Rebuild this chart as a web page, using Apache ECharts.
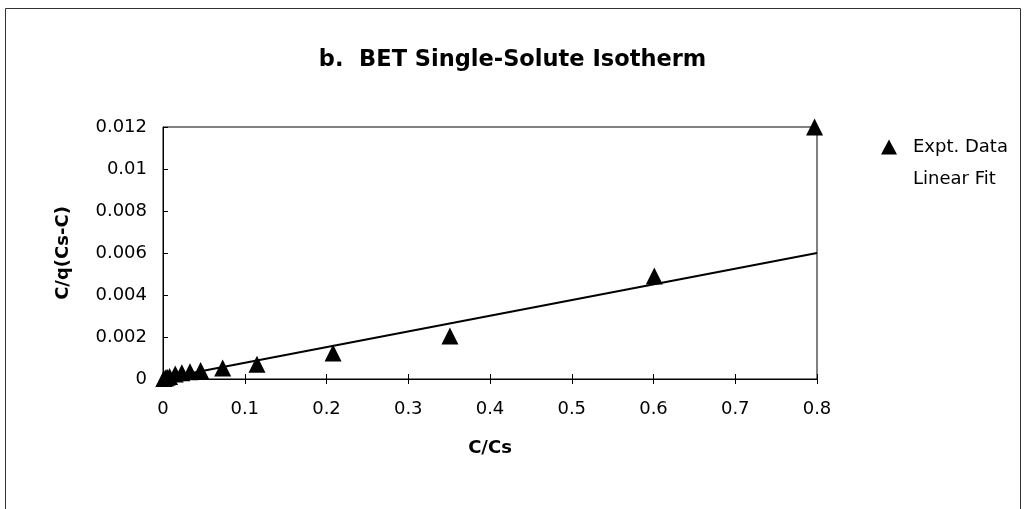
<!DOCTYPE html>
<html>
<head>
<meta charset="utf-8">
<title>BET Single-Solute Isotherm</title>
<script src="https://cdn.jsdelivr.net/npm/echarts@6/dist/echarts.min.js"></script>
<style>
  html, body { margin: 0; padding: 0; background: #ffffff; }
  #chart { width: 1025px; height: 509px; }
</style>
</head>
<body>
<div id="chart"></div>
<script>
// Experimental points: relative concentration C/Cs and linearised BET term C/q(Cs-C)
const exptX = [0.001, 0.003, 0.005, 0.008, 0.015, 0.023, 0.033, 0.046, 0.073, 0.115, 0.208, 0.351, 0.601, 0.797];
const exptY = [0.00002, 0.00005, 0.00008, 0.00012, 0.00024, 0.0003, 0.00034, 0.0004, 0.00052, 0.0007, 0.00124, 0.00205, 0.0049, 0.012];

// Straight-line fit end points
const fitX = [0, 0.8];
const fitY = [0.00002, 0.006];

const seriesNames = ['Expt. Data', 'Linear Fit'];
const titleText = 'b.  BET Single-Solute Isotherm';
const xName = 'C/Cs';
const yName = 'C/q(Cs-C)';

const FONT = '"DejaVu Sans", "Liberation Sans", Arial, sans-serif';
const fmt = v => String(parseFloat(v.toFixed(4)));

const chart = echarts.init(document.getElementById('chart'), null, { renderer: 'canvas' });

const option = {
  backgroundColor: '#ffffff',
  animation: false,
  title: {
    text: titleText,
    left: 'center',
    top: 49,
    padding: 0,
    textStyle: { fontFamily: FONT, fontSize: 22.5, fontWeight: 'bold', color: '#000' }
  },
  legend: {
    orient: 'vertical',
    left: 876,
    top: 133,
    itemGap: 14,
    itemWidth: 16,
    itemHeight: 15,
    textStyle: { fontFamily: FONT, fontSize: 18, color: '#000', padding: [0, 0, 0, 11] },
    data: [
      { name: seriesNames[0], icon: 'triangle', itemStyle: { color: '#000', opacity: 1 } },
      { name: seriesNames[1], icon: 'none' }
    ]
  },
  grid: {
    left: 163, right: 208, top: 127, bottom: 130,
    show: true, borderColor: '#000', borderWidth: 1, backgroundColor: 'transparent'
  },
  xAxis: [
    {
      type: 'value', min: 0, max: 0.8, interval: 0.1,
      name: xName, nameLocation: 'middle', nameGap: 60,
      nameTextStyle: { fontFamily: FONT, fontSize: 18, fontWeight: 'bold', color: '#000' },
      axisLine: { show: true, onZero: false, lineStyle: { color: '#000', width: 1 } },
      axisTick: { show: true, inside: false, length: 5, lineStyle: { color: '#000' } },
      axisLabel: { margin: 21, fontFamily: FONT, fontSize: 18, color: '#000', formatter: fmt },
      splitLine: { show: false }
    },
    {
      // inner half of the crossing x ticks
      type: 'value', min: 0, max: 0.8, interval: 0.1, position: 'bottom', offset: 0,
      axisLine: { show: false },
      axisTick: { show: true, inside: true, length: 5, lineStyle: { color: '#000' } },
      axisLabel: { show: false },
      splitLine: { show: false }
    }
  ],
  yAxis: {
    type: 'value', min: 0, max: 0.012, interval: 0.002,
    name: yName, nameLocation: 'middle', nameGap: 91, nameRotate: 90,
    nameTextStyle: { fontFamily: FONT, fontSize: 18, fontWeight: 'bold', color: '#000' },
    axisLine: { show: true, onZero: false, lineStyle: { color: '#000', width: 1 } },
    axisTick: { show: true, inside: true, length: 5, lineStyle: { color: '#000' } },
    axisLabel: { margin: 16, fontFamily: FONT, fontSize: 18, color: '#000', formatter: fmt },
    splitLine: { show: false }
  },
  series: [
    {
      name: seriesNames[1],
      type: 'line',
      data: fitX.map((x, i) => [x, fitY[i]]),
      showSymbol: false,
      symbol: 'none',
      lineStyle: { color: '#000', width: 2 },
      itemStyle: { color: '#000' },
      z: 2
    },
    {
      name: seriesNames[0],
      type: 'scatter',
      data: exptX.map((x, i) => [x, exptY[i]]),
      symbol: 'triangle',
      symbolSize: [17, 17],
      itemStyle: { color: '#000', opacity: 1 },
      z: 3
    }
  ],
  graphic: [
    {
      type: 'rect',
      shape: { x: 5.5, y: 8.5, width: 1015, height: 520 },
      style: { fill: 'none', stroke: '#333', lineWidth: 1 },
      silent: true, z: -1
    }
  ]
};

chart.setOption(option);
</script>
</body>
</html>
